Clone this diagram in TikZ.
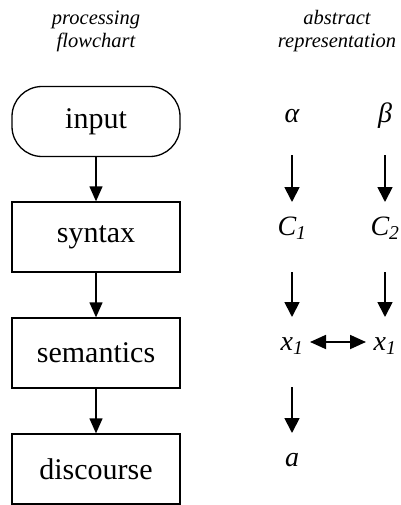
\documentclass[tikz,border=0pt]{standalone}
\usepackage{fontspec}
\setmainfont{Liberation Serif}
\usetikzlibrary{arrows.meta}
\begin{document}
\begin{tikzpicture}[x=1pt,y=1pt,
  box/.style={draw, line width=1.3pt, minimum width=168pt, minimum height=70pt, inner sep=0pt, font=\fontsize{30}{34}\selectfont},
  ttl/.style={font=\fontsize{20.5}{23}\itshape, align=center, anchor=base},
  sym/.style={font=\fontsize{28}{32}\itshape, anchor=base, inner sep=0pt},
  farr/.style={-{Triangle[width=13pt,length=15pt]}, line width=1.3pt},
  rarr/.style={-{Triangle[width=15pt,length=15pt]}, line width=1.8pt},
  darr/.style={{Triangle[width=14pt,length=16pt]}-{Triangle[width=14pt,length=16pt]}, line width=1.8pt}]
\useasboundingbox (0,0) rectangle (400,-505);
% titles
\node[ttl] (t1) at (96,-25) {processing};
\node[ttl] (t2) at (96,-48) {flowchart};
\node[ttl] (t3) at (337,-25) {abstract};
\node[ttl] (t4) at (337,-48) {representation};
% flowchart
\node[box, rounded corners=30pt] (in) at (96,-121.5) {input};
\node[box] (syn) at (96,-237) {syntax};
\node[box] (sem) at (96,-353) {semantics};
\node[box] (dis) at (96,-469) {discourse};
\draw[farr] (in) -- (syn);
\draw[farr] (syn) -- (sem);
\draw[farr] (sem) -- (dis);
% abstract
\node[sym] (al) at (292,-123) {α};
\node[sym] (be) at (385,-123) {β};
\node[sym] (c1) at (292,-235) {C\textsubscript{1}};
\node[sym] (c2) at (385,-235) {C\textsubscript{2}};
\node[sym] (x1) at (292,-350) {x\textsubscript{1}};
\node[sym] (x2) at (385,-350) {x\textsubscript{1}};
\node[sym] (a) at (292,-466) {a};
\draw[rarr] ([yshift=-32pt]al.base) -- ([yshift=33pt]c1.base);
\draw[rarr] ([yshift=-32pt]be.base) -- ([yshift=33pt]c2.base);
\draw[rarr] ([yshift=-37pt]c1.base) -- ([yshift=33pt]x1.base);
\draw[rarr] ([yshift=-37pt]c2.base) -- ([yshift=33pt]x2.base);
\draw[rarr] ([yshift=-37pt]x1.base) -- ([yshift=33pt]a.base);
\draw[darr] ([xshift=18pt,yshift=8pt]x1.base) -- ([xshift=-19pt,yshift=8pt]x2.base);
\end{tikzpicture}
\end{document}
